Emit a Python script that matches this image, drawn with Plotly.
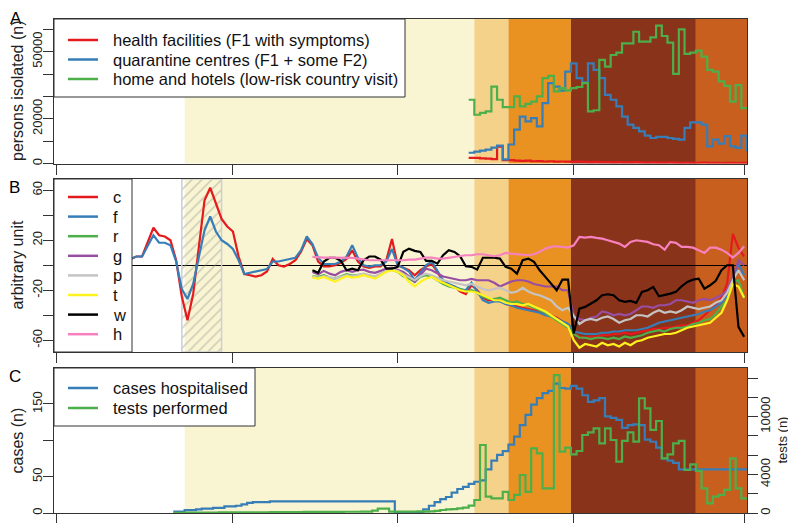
import pandas as pd
import plotly.graph_objects as go

# ---------------- DATA ----------------
# Panel A: persons isolated per day (from 13 March 2020)
iso_start = "2020-03-13"
iso_health = [2500, 2500, 2300, 2200, 2000, 7500, 1500, 1500, 1300, 1200, 1300, 1000, 1100, 900,
              1000, 800, 900, 800, 700, 800, 700, 600, 700, 600, 600, 500, 600, 500, 500, 600,
              500, 400, 500, 400, 400, 500, 400, 300, 400, 300, 300, 400, 300, 300, 200, 300,
              300, 200, 300, 300]
iso_quarantine = [4800, 5300, 5800, 6200, 7100, 8000, 1800, 8500, 15100, 21000, 18800, 20300,
                  16600, 27000, 35900, 34400, 32600, 41100, 44800, 38200, 36300, 44800, 41900,
                  38200, 30700, 28500, 25500, 21000, 17400, 15900, 14400, 12500, 11400, 11900,
                  11900, 11400, 11000, 10700, 15900, 18400, 18400, 17400, 7700, 10700, 8900,
                  12200, 7700, 7000, 12500, 5500]
iso_home = [28500, 21800, 22600, 23300, 34400, 28500, 25200, 25200, 30000, 25500, 26700, 27700,
            30000, 38200, 39200, 32200, 33700, 32700, 33700, 34200, 35900, 23300, 23800, 46300,
            43300, 48500, 49600, 53700, 53700, 58900, 54500, 54500, 56400, 61600, 57000, 54000,
            40100, 60000, 49000, 49600, 50500, 47800, 41900, 41100, 36700, 34700, 27700, 35100,
            24800, 24800]

# Panel B: indices (arbitrary unit)
cf_start = "2020-01-14"
idx_c = [5, 7, 7, 18, 30, 24, 23, 20, 4, -25, -44, -23, 15, 52, 62, 49, 37, 31, 27, 7, -7, -8,
         -9, -8, -5, 5, 0, -1, 1, 4, 11, 21, 16, 3, -1,
         -1, 0, 2, 5, 12, 3, -1, -2, -1, -1, 4, 21, 0, -2, -4, -8, -4, -1, 1, -5,
         -14, -16, -17, -21, -23, -16, -20, -26, -28, -27, -28, -31, -32, -33, -34, -35, -36,
         -37, -38, -40, -42, -45, -47, -55, -57, -58, -57, -57, -56, -56, -55, -55, -54, -55,
         -54, -53, -52, -51, -51, -50, -50, -49, -48, -48, -46, -44, -40, -36, -32, -26, -15,
         25, 14, 7]
idx_f = [5, 7, 7, 15, 24, 18, 18, 16, 3, -19, -27, -15, 7, 28, 39, 27, 20, 17, 13, 4, -7, -6,
         -5, -4, -3, 3, 3, 4, 5, 6, 12, 23, 17, 6, 1,
         1, 1, 3, 7, 16, 6, 0, -1, 0, 0, 3, 13, 0, -2, -5, -12, -6, 0, 3, -5,
         -12, -15, -17, -19, -20, -14, -21, -28, -30, -29, -29, -31, -32, -34, -35, -36, -37,
         -38, -40, -41, -43, -45, -47, -53, -54, -55, -55, -55, -54, -54, -53, -53, -52, -52,
         -52, -51, -50, -48, -46, -45, -44, -43, -42, -41, -40, -39, -37, -36, -33, -30, -24,
         -12, 1, -8]
mob_start = "2020-02-15"
idx_r = [-8.8, -9.3, -8, -9.9, -10.7, -8.8, -7.2, -8.3, -7.7, -7.2, -8.3, -9.3, -7.2, -4.5, -3.5,
         -5.3, -8.8, -10.7, -13.3, -9.3, -8, -9.3, -12,
         -15, -17, -18, -19, -21, -20, -22, -25, -27, -27, -26, -28, -30, -29, -31, -32, -34,
         -36, -38, -41, -44, -47, -50, -55,
         -58, -58, -59, -58, -58, -59, -58, -59, -57, -58, -57, -56, -54, -53, -52, -53, -51,
         -50, -50, -49, -47, -46, -44, -43, -39, -33, -28, -14, -12, -26]
idx_g = [-5.3, -7.2, -4.5, -6.7, -8, -5.3, -4, -5.3, -4, -3.5, -5.3, -6.1, -4.5, -2.7, -1.9,
         -3.5, -5.3, -8.8, -13.3, -8, -2.7, -4, -6.7,
         -9, -10, -11, -12, -12, -11, -12, -12, -12, -14, -17, -15, -13, -12, -12, -13, -15,
         -16, -17, -17, -17, -20, -20, -41,
         -43, -44, -42, -41, -37, -38, -40, -39, -40, -39, -36, -33, -33, -34, -32, -32, -31,
         -28, -28, -29, -30, -28, -27, -28, -26, -24, -20, -10, 4, 0]
idx_p = [-9.3, -9.9, -8.8, -9.9, -10.7, -9.3, -8, -8.8, -8, -6.7, -8, -8.8, -6.7, -4.5, -3.5,
         -4.5, -7.2, -9.9, -12, -8.8, -6.7, -8, -9.9,
         -12, -13, -14, -15, -16, -15, -17, -19, -20, -19, -18, -20, -22, -21, -18, -21, -23,
         -24, -26, -28, -33, -36, -34, -41,
         -47, -44, -43, -44, -42, -41, -43, -46, -44, -43, -40, -40, -41, -38, -36, -38, -37,
         -38, -36, -33, -34, -35, -34, -33, -30, -28, -22, -12, -4, -12]
idx_t = [-9.9, -10.7, -9.3, -11.5, -13.3, -10.7, -8.8, -9.9, -9.3, -8, -9.3, -10.7, -8, -5.3, -4,
         -5.3, -8, -13.3, -16.8, -13.3, -10.7, -9.3, -12,
         -14, -16, -18, -20, -21, -21, -22, -24, -26, -28, -28, -30, -31, -31, -32, -31, -33,
         -35, -37, -40, -43, -46, -49, -60,
         -66, -63, -64, -65, -62, -64, -63, -65, -62, -64, -61, -60, -58, -57, -56, -55, -55,
         -54, -52, -50, -49, -48, -47, -46, -42, -38, -28, -15, -17, -26]
idx_w = [-4, -6, 3, 6, 6, 3.5, -4, -2.7, -4, 4, 7, 7, 4.5, -2.7, -2.7, -1.3, 10.7, 13.3, 11.5,
         10.7, 3.5, 3.5, 1.3, 8, 12, 10.7, 7.2, -0.8, -1.3, -3.5, 6, 6, 6, 5.3, -1.3, -2.7,
         -6.7, 4, 5.3, 2.7, -4, -9.3, -14.7, -20, -11.5, -11.5, -54.7, -34.7, -33.3, -30.7,
         -28, -24, -23.2, -24, -28, -29.3, -28.5, -30.1, -21.3, -20, -17.3, -24.8, -24, -22.7,
         -21.3, -16.8, -13.3, -11.5, -10.7, -18.7, -16, -12.5, -4, 0, 0, -49.3, -57.3]
idx_h = [6.7, 6.1, 6.1, 6.1, 6.1, 5.9, 6.1, 5.9, 5.3, 4.5, 4.0, 4.0, 4.0, 3.5, 3.5, 3.5, 4.0,
         4.5, 4.5, 5.3, 6.1, 6.1, 5.3, 5.3, 6.1, 6.7, 7.2, 8.0, 8.0, 8.8, 8.8, 8.0, 7.2, 8.0,
         9.9, 9.3, 8.8, 8.8, 8.0, 8.8, 10.7, 13.3, 14.7, 15.2, 14.7, 14.1, 16.0, 22.7, 22.1,
         22.7, 21.9, 21.3, 20.0, 18.7, 17.3, 14.7, 18.7, 20.0, 19.5, 18.7, 16.8, 16.0, 12.5,
         18.7, 17.9, 14.7, 14.7, 14.1, 12.0, 9.9, 14.1, 14.1, 12.5, 9.9, 6.1, 9.9, 15.2]

# Panel C: cases hospitalised (left axis) and tests performed (right axis), from 21 Jan 2020
hosp_start = "2020-01-21"
cases_hosp = [2, 2, 4, 4, 5, 6, 6, 7, 7, 9, 9, 10, 12, 14, 15, 15, 15,
              16, 16, 16, 16, 16, 16, 16, 16, 16, 16, 16, 16, 16, 16, 16, 16, 16, 16, 16, 16,
              16, 16,
              0, 0, 0, 0, 0,
              5, 10, 15, 19, 22, 28, 33, 36, 40, 43, 45, 60, 72, 80, 85, 94, 105, 121, 135,
              149, 158, 165, 168, 178, 172, 171, 175, 171, 162, 153, 155, 158, 133, 131, 128,
              117, 121, 122, 121, 101, 98, 90, 75, 72, 69,
              60, 60, 60, 60, 60, 60, 60, 60, 60, 60, 60, 60, 60]
tests_done = [20, 20, 30, 30, 40, 40, 50, 50, 60, 60, 60, 70, 70, 70, 80, 80, 80, 90, 90, 90,
              100, 100, 100, 110, 110, 110, 120, 120, 120, 120, 130, 130, 130, 140, 140,
              250, 450, 450, 150, 140, 140, 150, 140, 160, 150, 170, 210, 310, 380, 410, 480,
              550, 760, 1350,
              7050, 1700, 1520, 1520, 2200, 1350, 1870, 3940, 2200, 6700, 6190, 2560, 2560,
              14300, 6360, 6780, 6080, 6430, 8090, 8370, 8780, 7230, 8780, 7570, 5320, 7470,
              8370, 7400, 11900, 10860, 8610, 9540, 5670, 6080, 7230, 7470, 4460, 5050, 4360,
              2560, 1000, 1700, 1870, 2390, 5670, 2560, 1520, 1520]

# Periods (background) and hatched period
period_starts = ["2020-01-23 12:00", "2020-03-14 12:00", "2020-03-20 12:00",
                 "2020-03-31 12:00", "2020-04-22 12:00"]
period_end = "2020-05-01 12:00"
hatch_period = ["2020-01-23", "2020-01-30"]
month_ticks = ["2020-01-01", "2020-02-01", "2020-03-01", "2020-04-01", "2020-05-01"]
x_range = ["2019-12-31 12:00", "2020-05-01 12:00"]

ticks_a = [0, 10000, 20000, 30000, 40000, 50000, 60000]
ticklabels_a = ["0", "", "20000", "", "", "50000", ""]
ticks_b = [-60, -40, -20, 0, 20, 40, 60]
ticklabels_b = ["-60", "", "-20", "", "20", "", "60"]
ticks_c = [0, 50, 100, 150]
ticklabels_c = ["0", "50", "", "150"]
ticks_c2 = [0, 2000, 4000, 6000, 8000, 10000, 12000, 14000]
ticklabels_c2 = ["0", "", "4000", "", "", "10000", "", ""]

titles_y = ["persons isolated (n)", "arbitrary unit", "cases (n)"]
title_y2 = "tests (n)"
legend_a = ["health facilities (F1 with symptoms)", "quarantine centres (F1 + some F2)",
            "home and hotels (low-risk country visit)"]
legend_b = ["c", "f", "r", "g", "p", "t", "w", "h"]
legend_c = ["cases hospitalised", "tests performed"]

# ---------------- STYLE / GEOMETRY ----------------
RED, BLUE, GREEN, PURPLE = "#E41A1C", "#377EB8", "#4DAF4A", "#984EA3"
GREY, YELLOW, BLACK, PINK = "#C4C4C4", "#FFF21F", "#000000", "#F781BF"
period_colors = ["#F9F5D3", "#F5D28A", "#E99222", "#8A331B", "#C95F1E"]
FRAME = "#333333"
FONT = "Liberation Sans, Arial, Helvetica, sans-serif"
LW = 2.2

OFF = 8                      # default page margin of the html body
W, H = 796 - OFF, 523 - OFF  # figure size so that it fills the window
ML, MT = 54 - OFF, 19 - OFF
MR = W - (747 - OFF)
MB = H - (513 - OFF)
PW, PH = W - ML - MR, H - MT - MB


def px_x(px):  # window pixel -> paper x
    return (px - OFF - ML) / PW


def px_y(py):  # window pixel -> paper y
    return (H - MB - (py - OFF)) / PH


def daily(start, n, hours=0):
    return pd.date_range(start, periods=n, freq="D") + pd.Timedelta(hours=hours)


fig = go.Figure()

# Panel A (step lines)
xa = daily(iso_start, len(iso_home), 12)
for vals, col in [(iso_health, RED), (iso_quarantine, BLUE), (iso_home, GREEN)]:
    fig.add_trace(go.Scatter(x=xa, y=vals, mode="lines", line=dict(color=col, width=LW, shape="hv"),
                             xaxis="x", yaxis="y", showlegend=False, hoverinfo="skip"))

# Panel B
b_lo, b_hi = -69.4, 69.0
fig.add_trace(go.Scatter(
    x=[hatch_period[0], hatch_period[1], hatch_period[1], hatch_period[0], hatch_period[0]],
    y=[b_lo, b_lo, b_hi, b_hi, b_lo], mode="lines", fill="toself",
    fillcolor="rgba(0,0,0,0)",
    fillpattern=dict(shape="/", fgcolor="#8F8F8F", bgcolor="rgba(0,0,0,0)", size=7, solidity=0.18),
    line=dict(color="#CFCFCF", width=1.5), xaxis="x2", yaxis="y2", showlegend=False,
    hoverinfo="skip"))
xcf = daily(cf_start, len(idx_c))
xmob = daily(mob_start, len(idx_r))
b_series = [(xcf, idx_c, RED), (xcf, idx_f, BLUE), (xmob, idx_r, GREEN), (xmob, idx_g, PURPLE),
            (xmob, idx_p, GREY), (xmob, idx_t, YELLOW), (xmob, idx_w, BLACK), (xmob, idx_h, PINK)]
for xx, vals, col in b_series:
    fig.add_trace(go.Scatter(x=xx, y=vals, mode="lines", line=dict(color=col, width=LW),
                             xaxis="x2", yaxis="y2", showlegend=False, hoverinfo="skip"))

# Panel C
xc = daily(hosp_start, len(cases_hosp), 12)
fig.add_trace(go.Scatter(x=xc, y=cases_hosp, mode="lines", line=dict(color=BLUE, width=LW, shape="hv"),
                         xaxis="x3", yaxis="y3", showlegend=False, hoverinfo="skip"))
fig.add_trace(go.Scatter(x=xc, y=tests_done, mode="lines", line=dict(color=GREEN, width=LW, shape="hv"),
                         xaxis="x3", yaxis="y4", showlegend=False, hoverinfo="skip"))

# Background period rectangles
shapes = []
edges = period_starts + [period_end]
for xr, yr in [("x", "y domain"), ("x2", "y2 domain"), ("x3", "y3 domain")]:
    for i, col in enumerate(period_colors):
        shapes.append(dict(type="rect", xref=xr, yref=yr, x0=edges[i], x1=edges[i + 1], y0=0, y1=1,
                           fillcolor=col, line=dict(width=0), layer="below"))

annotations = []


def add_legend(box, rows_y, labels, colors):
    x0, y0, x1, y1 = box
    shapes.append(dict(type="rect", xref="paper", yref="paper", x0=px_x(x0), x1=px_x(x1),
                       y0=px_y(y1), y1=px_y(y0), fillcolor="white",
                       line=dict(color=FRAME, width=1), layer="above"))
    for ry, lab, col in zip(rows_y, labels, colors):
        shapes.append(dict(type="line", xref="paper", yref="paper", x0=px_x(68), x1=px_x(98),
                           y0=px_y(ry), y1=px_y(ry), line=dict(color=col, width=2.5), layer="above"))
        annotations.append(dict(text=lab, xref="paper", yref="paper", x=px_x(111), y=px_y(ry),
                                xanchor="left", yanchor="middle", showarrow=False,
                                font=dict(size=16.5, color="#111111", family=FONT)))


add_legend((54, 19, 405, 97), [40, 59.5, 79], legend_a, [RED, BLUE, GREEN])
add_legend((54, 179, 132, 352), [197 + 19.6 * i for i in range(8)], legend_b,
           [RED, BLUE, GREEN, PURPLE, GREY, YELLOW, BLACK, PINK])
add_legend((54, 368, 255, 426), [388, 408], legend_c, [BLUE, GREEN])

# Panel letters
annotations.append(dict(text="A", xref="paper", yref="paper", x=px_x(15.5), y=px_y(8.5),
                        xanchor="center", yanchor="top", showarrow=False, borderpad=0,
                        font=dict(size=17, color="#000000", family=FONT)))
for letter, (lx, ly) in zip(["B", "C"], [(14, 188), (14.5, 376)]):
    annotations.append(dict(text=letter, xref="paper", yref="paper", x=px_x(lx), y=px_y(ly),
                            xanchor="center", yanchor="middle", showarrow=False,
                            font=dict(size=17, color="#000000", family=FONT)))

# Axis titles (rotated)
for txt, ty in zip(titles_y, [91, 265.5, 440.5]):
    annotations.append(dict(text=txt, xref="paper", yref="paper", x=px_x(17), y=px_y(ty),
                            xanchor="center", yanchor="middle", textangle=-90, showarrow=False,
                            font=dict(size=16, color="#222222", family=FONT)))
annotations.append(dict(text=title_y2, xref="paper", yref="paper", x=px_x(782), y=px_y(440.5),
                        xanchor="center", yanchor="middle", textangle=-90, showarrow=False,
                        borderpad=0, font=dict(size=13, color="#222222", family=FONT)))

xaxis_common = dict(type="date", range=x_range, tickvals=month_ticks, showticklabels=False,
                    ticks="outside", ticklen=10, tickcolor=FRAME, showline=True, mirror=True,
                    linecolor=FRAME, linewidth=1, showgrid=False, zeroline=False, automargin=False)
yaxis_common = dict(tickangle=-90, ticks="outside", ticklen=10, tickcolor=FRAME, showline=True,
                    mirror=True, linecolor=FRAME, linewidth=1, showgrid=False, zeroline=False,
                    automargin=False, ticklabelstandoff=-4,
                    tickfont=dict(size=13, family=FONT, color="#222222"))

fig.update_layout(
    width=W, height=H, autosize=False,
    margin=dict(l=ML, r=MR, t=MT, b=MB, autoexpand=False),
    paper_bgcolor="white", plot_bgcolor="white",
    showlegend=False,
    xaxis=dict(domain=[0, 1], anchor="y", **xaxis_common),
    xaxis2=dict(domain=[0, 1], anchor="y2", matches="x", **xaxis_common),
    xaxis3=dict(domain=[0, 1], anchor="y3", matches="x", **xaxis_common),
    yaxis=dict(domain=[px_y(163.5), px_y(19)], anchor="x", range=[0, 64600], tickvals=ticks_a,
               ticktext=ticklabels_a, **yaxis_common),
    yaxis2=dict(domain=[px_y(352), px_y(179)], anchor="x2", range=[b_lo, b_hi], tickvals=ticks_b,
                ticktext=ticklabels_b,
                **{**yaxis_common, "zeroline": True, "zerolinecolor": "#000000", "zerolinewidth": 1}),
    yaxis3=dict(domain=[px_y(513), px_y(368)], anchor="x3", range=[0, 199.5], tickvals=ticks_c,
                ticktext=ticklabels_c, **yaxis_common),
    yaxis4=dict(overlaying="y3", side="right", anchor="x3", range=[0, 15037], tickvals=ticks_c2,
                ticktext=ticklabels_c2, **{**yaxis_common, "mirror": False, "ticklabelstandoff": -4}),
    shapes=shapes,
    annotations=annotations,
)

fig.write_html("out.html")
